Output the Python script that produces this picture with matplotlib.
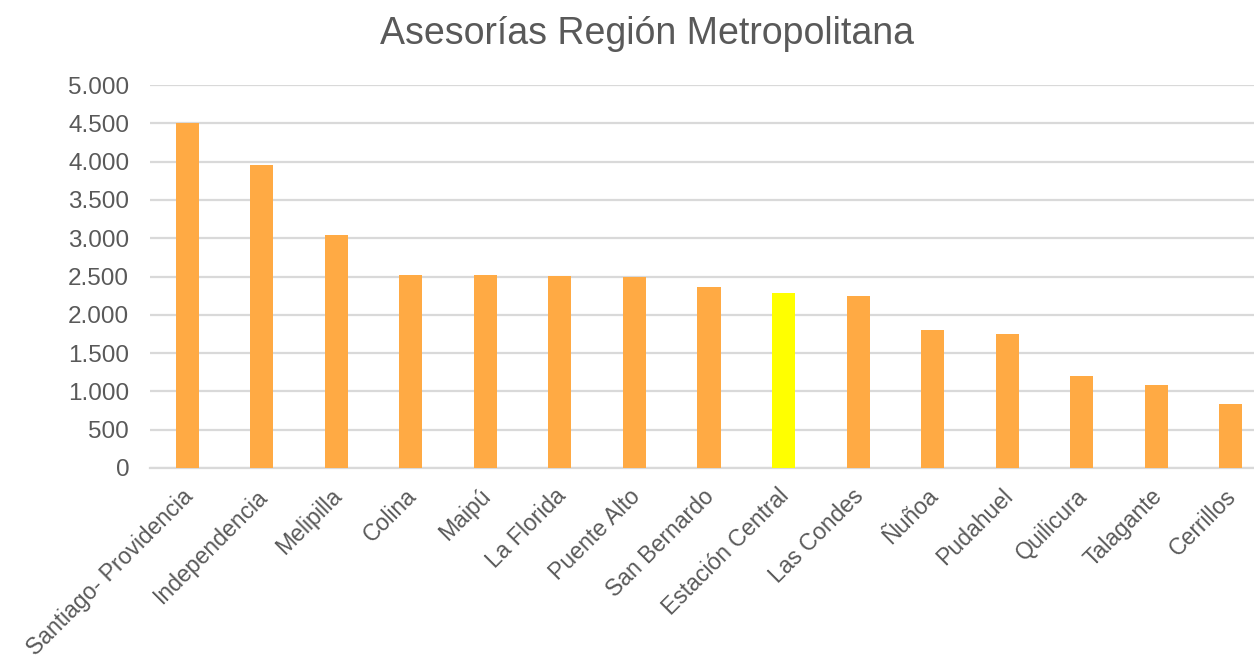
import matplotlib
matplotlib.use("Agg")
import matplotlib.pyplot as plt
from matplotlib.ticker import FuncFormatter, MultipleLocator
from matplotlib.transforms import ScaledTranslation

categories = ["Santiago- Providencia", "Independencia", "Melipilla", "Colina", "Maipú",
              "La Florida", "Puente Alto", "San Bernardo", "Estación Central", "Las Condes",
              "Ñuñoa", "Pudahuel", "Quilicura", "Talagante", "Cerrillos"]
values = [4510, 3950, 3045, 2522, 2517, 2510, 2495, 2365, 2280, 2240,
          1808, 1752, 1205, 1087, 838]
highlight = "Estación Central"

title = "Asesorías Región Metropolitana"
orange = "#FFAA44"
yellow = "#FFFF00"
grey_text = "#595959"
grid_col = "#D9D9D9"

plt.rcParams['font.family'] = ['Liberation Sans', 'DejaVu Sans']

W, H = 1254, 662
fig = plt.figure(figsize=(W / 100, H / 100), dpi=100)
left, right, top, bottom = 150, 1268, 85, 468
ax = fig.add_axes([left / W, 1 - bottom / H, (right - left) / W, (bottom - top) / H])

colors = [yellow if c == highlight else orange for c in categories]
x = list(range(len(categories)))
ax.bar(x, values, width=0.31, color=colors, zorder=3)
ax.set_xlim(-0.5, len(categories) - 0.5)
ax.set_ylim(0, 5000)
ax.yaxis.set_major_locator(MultipleLocator(500))
ax.yaxis.set_major_formatter(FuncFormatter(lambda v, p: f"{int(v):,}".replace(",", ".")))
ax.grid(axis='y', color=grid_col, linewidth=1.6, zorder=0)
for s in ['top', 'right', 'left']:
    ax.spines[s].set_visible(False)
ax.spines['bottom'].set_color(grid_col)
ax.spines['bottom'].set_linewidth(1.6)
ax.tick_params(axis='both', length=0, colors=grey_text)
ax.tick_params(axis='y', pad=15, labelsize=17.5)
ax.set_xticks(x)
ax.set_xticklabels(categories, rotation=45, ha='right', va='top', rotation_mode='anchor',
                   fontsize=16.6)
ax.tick_params(axis='x', pad=12)
offset = ScaledTranslation(-6 / 100, 0 / 100, fig.dpi_scale_trans)
for lab in ax.get_xticklabels():
    lab.set_transform(lab.get_transform() + offset)

fig.text(647 / W, 1 - 34 / H, title, ha='center', va='center', fontsize=27, color=grey_text)

fig.savefig("out.png", dpi=100, facecolor='white')
